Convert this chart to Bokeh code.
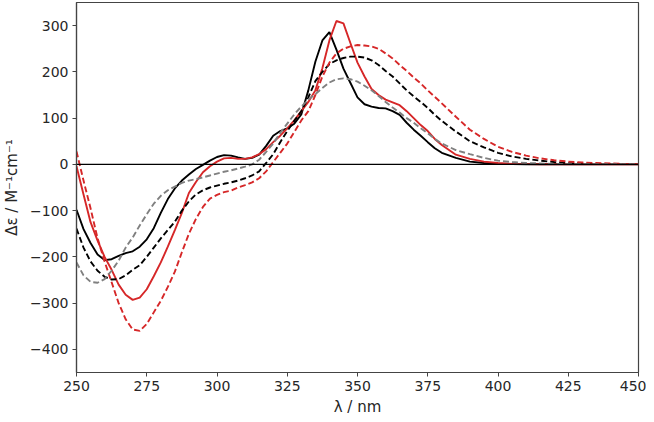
from bokeh.plotting import figure
from bokeh.models import Span, FixedTicker
from bokeh.embed import file_html
from bokeh.resources import INLINE

# wavelengths (nm)
wl = [250, 252.5, 255, 257.5, 260, 262.5, 265, 267.5, 270, 272.5, 275, 277.5,
      280, 282.5, 285, 287.5, 290, 292.5, 295, 297.5, 300, 302.5, 305, 307.5,
      310, 312.5, 315, 317.5, 320, 322.5, 325, 327.5, 330, 332.5, 335, 337.5,
      340, 342.5, 345, 347.5, 350, 352.5, 355, 357.5, 360, 362.5, 365, 367.5,
      370, 372.5, 375, 377.5, 380, 385, 390, 395, 400, 405, 410, 415, 420,
      425, 430, 435, 440, 445, 450]

black_solid = [-98, -140, -170, -195, -207, -205, -198, -192, -188, -178, -162, -138,
               -105, -75, -52, -35, -22, -10, -1, 8, 16, 20, 19, 15,
               12, 14, 21, 40, 62, 72, 78, 88, 108, 160, 222, 268,
               286, 248, 207, 176, 145, 130, 125, 122, 121, 115, 107, 90,
               75, 62, 48, 35, 25, 14, 6, 3, 1, 0.5, 0.3, 0.2, 0.1,
               0, 0, 0, 0, 0, 0]

red_solid = [-4, -65, -125, -165, -200, -228, -260, -282, -293, -288, -270, -242,
             -212, -178, -142, -105, -62, -38, -17, -4, 6, 13, 14, 12,
             12, 15, 22, 33, 48, 62, 78, 95, 115, 135, 160, 208,
             268, 310, 305, 262, 220, 190, 163, 150, 140, 134, 128, 115,
             100, 85, 72, 55, 42, 21, 12, 6, 3, 1, 0.5, 0.3, 0.2,
             0.1, 0, 0, 0, 0, 0]

black_dashed = [-139, -180, -210, -230, -243, -249, -248, -240, -228, -218, -200, -180,
                -160, -142, -124, -100, -80, -65, -56, -50, -46, -42, -39, -35,
                -30, -24, -15, 3, 22, 48, 72, 94, 115, 145, 180, 200,
                217, 225, 230, 233, 233, 231, 225, 215, 202, 190, 175, 160,
                147, 135, 122, 107, 94, 71, 50, 37, 25, 17, 12, 8, 5,
                3, 2, 1, 0.5, 0.5, 0.5]

red_dashed = [28, -35, -95, -160, -210, -255, -300, -335, -357, -360, -345, -320,
              -295, -265, -232, -190, -150, -118, -92, -74, -66, -60, -57, -50,
              -45, -39, -30, -15, 5, 25, 45, 70, 95, 115, 150, 190,
              220, 240, 250, 255, 258, 257, 255, 250, 240, 229, 215, 202,
              188, 175, 160, 146, 132, 103, 75, 55, 38, 27, 19, 13, 9,
              6, 4, 3, 2, 1, 1]

gray_dashed = [-212, -240, -254, -256, -248, -230, -208, -180, -158, -132, -108, -85,
               -68, -56, -48, -40, -35, -32, -28, -24, -20, -16, -13, -9,
               -5, 0, 10, 27, 45, 68, 88, 108, 125, 140, 152, 165,
               177, 184, 186, 184, 179, 170, 160, 148, 135, 123, 112, 100,
               90, 78, 67, 55, 45, 31, 22, 14, 8, 5, 3, 2, 1,
               0.5, 0.5, 0.5, 0.5, 0.5, 0.5]

x_ticks = [250, 275, 300, 325, 350, 375, 400, 425, 450]
y_ticks = [-400, -300, -200, -100, 0, 100, 200, 300]

p = figure(width=646, height=418, x_range=(250, 450), y_range=(-450, 350),
           output_backend="svg", toolbar_location=None,
           min_border_left=70, min_border_right=8, min_border_top=2,
           min_border_bottom=40)

p.grid.visible = False
p.background_fill_color = "white"
p.border_fill_color = "white"
p.outline_line_color = "#444444"
p.outline_line_width = 1.2

zero = Span(location=0, dimension="width", line_color="black", line_width=1.3)
p.add_layout(zero)

lw = 1.9
p.line(wl, black_solid, line_color="black", line_width=lw)
p.line(wl, red_solid, line_color="#d62728", line_width=lw)
p.line(wl, black_dashed, line_color="black", line_width=lw, line_dash="6 3")
p.line(wl, red_dashed, line_color="#d62728", line_width=lw, line_dash="6 3")
p.line(wl, gray_dashed, line_color="#808080", line_width=lw, line_dash="6 3")

for ax in (p.xaxis[0], p.yaxis[0]):
    ax.axis_line_color = "#444444"
    ax.axis_line_width = 1.2
    ax.major_tick_line_color = "#444444"
    ax.major_tick_out = 4
    ax.major_tick_in = 0
    ax.minor_tick_line_color = None
    ax.major_label_text_font = "DejaVu Sans"
    ax.major_label_text_font_size = "14px"
    ax.major_label_text_color = "#262626"
    ax.axis_label_text_font = "DejaVu Sans"
    ax.axis_label_text_font_size = "15px"
    ax.axis_label_text_font_style = "normal"
    ax.axis_label_text_color = "#262626"

p.xaxis.ticker = FixedTicker(ticks=x_ticks)
p.yaxis.ticker = FixedTicker(ticks=y_ticks)
p.yaxis.major_label_overrides = {t: (str(t).replace("-", "\u2212")) for t in y_ticks}
p.xaxis.axis_label = "λ / nm"
p.yaxis.axis_label = "Δε / M⁻¹cm⁻¹"
p.xaxis.axis_label_standoff = 4
p.yaxis.axis_label_standoff = 6
p.xaxis.major_label_standoff = 4
p.yaxis.major_label_standoff = 4

open("out.html", "w").write(file_html(p, INLINE))
